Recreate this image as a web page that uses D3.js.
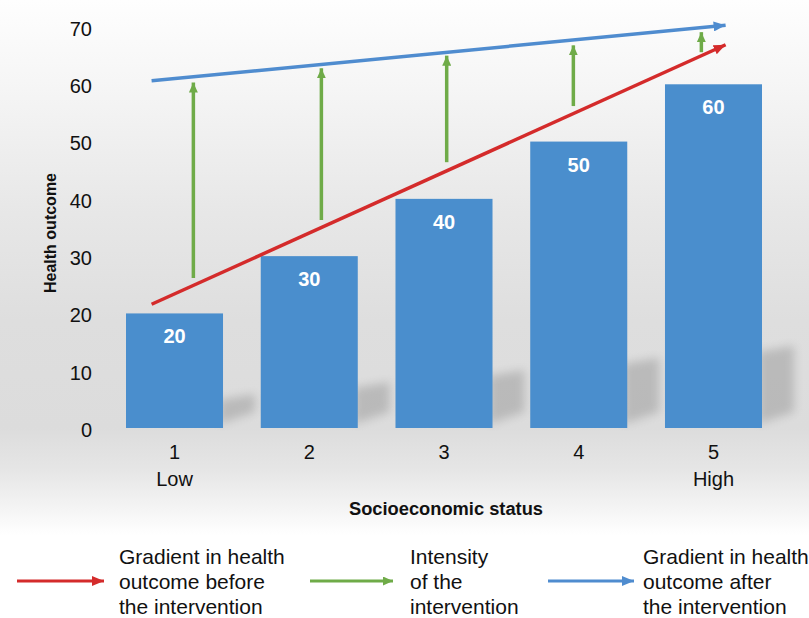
<!DOCTYPE html>
<html>
<head>
<meta charset="utf-8">
<script src="https://cdn.jsdelivr.net/npm/d3@7"></script>
<style>
  body { margin: 0; background: #fff; }
  svg { display: block; font-family: "Liberation Sans", Arial, sans-serif; }
</style>
</head>
<body>
<svg id="chart" width="809" height="618"></svg>
<script>
// Health outcome by socioeconomic status
const categories = ["1", "2", "3", "4", "5"];
const categoryNotes = ["Low", "", "", "", "High"];
const outcomes = [20, 30, 40, 50, 60];
const yTicks = [0, 10, 20, 30, 40, 50, 60, 70];

// Gradient lines as [category position, outcome] for start and arrow tip
const beforeGradient = [[0.83, 21.6], [5.09, 66.9]];
const afterGradient = [[0.83, 60.6], [5.09, 70.3]];

// Intervention arrows: category position, outcome at tail and at tip
const interventionPos = [1.14, 2.09, 3.02, 3.96, 4.91];
const interventionFrom = [26.2, 36.3, 46.4, 56.2, 65.6];
const interventionTo = [60.3, 62.8, 65.0, 66.8, 69.1];

const legendLabels = [
  ["Gradient in health", "outcome before", "the intervention"],
  ["Intensity", "of the", "intervention"],
  ["Gradient in health", "outcome after", "the intervention"]
];

const colors = { bar: "#4a8ecd", red: "#d42b2b", green: "#6fab48", blue: "#4f8ccf" };

const svg = d3.select("#chart");
const defs = svg.append("defs");

// backdrop shading
const bg = defs.append("linearGradient").attr("id", "bg").attr("x1", 0).attr("y1", 0).attr("x2", 0).attr("y2", 1);
[[0, "#fefefe"], [0.15, "#f6f6f6"], [0.4, "#e7e7e7"], [0.6, "#dedede"], [0.8, "#dcdcdc"], [0.88, "#e6e6e6"], [0.95, "#f4f4f4"], [1, "#ffffff"]]
  .forEach(([o, c]) => bg.append("stop").attr("offset", o).attr("stop-color", c));
svg.append("rect").attr("x", 0).attr("y", 0).attr("width", 809).attr("height", 535).attr("fill", "url(#bg)");

defs.append("filter").attr("id", "soft").attr("x", "-50%").attr("y", "-50%").attr("width", "200%").attr("height", "200%")
  .append("feGaussianBlur").attr("stdDeviation", 5);

function marker(id, color, len, wid) {
  defs.append("marker").attr("id", id)
    .attr("markerUnits", "userSpaceOnUse")
    .attr("viewBox", `0 0 ${len} ${wid}`)
    .attr("refX", len).attr("refY", wid / 2)
    .attr("markerWidth", len).attr("markerHeight", wid)
    .attr("orient", "auto")
    .append("path").attr("d", `M0,0L${len},${wid / 2}L0,${wid}Z`).attr("fill", color);
}
marker("headRed", colors.red, 12, 10);
marker("headBlue", colors.blue, 12, 10);
marker("headGreen", colors.green, 10, 9);

const y = d3.scaleLinear().domain([0, 70]).range([428, 27]);
const x = d3.scaleBand().domain(categories).range([126, 762]).paddingInner(0.28).paddingOuter(0);
const bw = x.bandwidth();
const pos = d3.scaleLinear().domain([1, 5]).range([x("1") + bw / 2, x("5") + bw / 2]);

// bar floor shadows
svg.append("g").selectAll("path").data(outcomes).join("path")
  .attr("d", (d, i) => {
    const r = x(categories[i]) + bw - 4, b = y(0) - 4, h = (y(0) - y(d)) * 0.21;
    return `M${r},${b}L${r},${b - h}L${r + 36},${b - h - 6}L${r + 36},${b - 12}Z`;
  })
  .attr("fill", "#909090").attr("opacity", 0.45).attr("filter", "url(#soft)");

// bars
svg.append("g").selectAll("rect").data(outcomes).join("rect")
  .attr("x", (d, i) => x(categories[i]))
  .attr("y", d => y(d))
  .attr("width", bw)
  .attr("height", d => y(0) - y(d))
  .attr("fill", colors.bar);

svg.append("g").selectAll("text").data(outcomes).join("text")
  .attr("x", (d, i) => x(categories[i]) + bw / 2)
  .attr("y", d => y(d) + 30)
  .attr("text-anchor", "middle")
  .attr("font-size", 20).attr("font-weight", "bold").attr("fill", "#fff")
  .text(d => d);

// y axis
const yAxis = svg.append("g").attr("transform", "translate(126,2)")
  .call(d3.axisLeft(y).tickValues(yTicks).tickSize(0).tickPadding(34));
yAxis.select(".domain").remove();
yAxis.selectAll("text").attr("font-size", 20).attr("fill", "#111").attr("font-family", null);

// x axis
const xAxis = svg.append("g").attr("transform", `translate(0,${y(0)})`)
  .call(d3.axisBottom(x).tickSize(0).tickPadding(17));
xAxis.select(".domain").remove();
xAxis.selectAll("text").attr("font-size", 20).attr("fill", "#111").attr("font-family", null);

svg.append("g").selectAll("text").data(categoryNotes).join("text")
  .attr("x", (d, i) => x(categories[i]) + bw / 2)
  .attr("y", 486)
  .attr("text-anchor", "middle")
  .attr("font-size", 20).attr("fill", "#111")
  .text(d => d);

svg.append("text").attr("x", 446).attr("y", 515).attr("text-anchor", "middle")
  .attr("font-size", 18.3).attr("font-weight", "bold").attr("fill", "#111")
  .text("Socioeconomic status");

svg.append("text").attr("transform", "translate(56,233) rotate(-90)").attr("text-anchor", "middle")
  .attr("font-size", 16).attr("font-weight", "bold").attr("fill", "#111")
  .text("Health outcome");

// gradient lines
const line = d3.line().x(d => pos(d[0])).y(d => y(d[1]));
svg.append("path").attr("d", line(afterGradient)).attr("stroke", colors.blue).attr("stroke-width", 3.5)
  .attr("fill", "none").attr("marker-end", "url(#headBlue)");
svg.append("path").attr("d", line(beforeGradient)).attr("stroke", colors.red).attr("stroke-width", 3.5)
  .attr("fill", "none").attr("marker-end", "url(#headRed)");

// intervention arrows
svg.append("g").selectAll("path").data(interventionPos).join("path")
  .attr("d", (p, i) => line([[p, interventionFrom[i]], [p, interventionTo[i]]]))
  .attr("stroke", colors.green).attr("stroke-width", 3.5).attr("fill", "none")
  .attr("marker-end", "url(#headGreen)");

// legend
const legendItems = [
  { color: colors.red, head: "headRed", x0: 17, x1: 104, tx: 119 },
  { color: colors.green, head: "headGreen", x0: 310, x1: 393, tx: 410 },
  { color: colors.blue, head: "headBlue", x0: 548, x1: 634, tx: 643 }
];
const lg = svg.append("g").selectAll("g").data(legendItems).join("g");
lg.append("line")
  .attr("x1", d => d.x0).attr("x2", d => d.x1).attr("y1", 581).attr("y2", 581)
  .attr("stroke", d => d.color).attr("stroke-width", 3)
  .attr("marker-end", d => `url(#${d.head})`);
lg.each(function (d, i) {
  const t = d3.select(this).append("text").attr("font-size", 21).attr("fill", "#111");
  legendLabels[i].forEach((s, k) => t.append("tspan").attr("x", d.tx).attr("y", 564 + k * 25).text(s));
});
</script>
</body>
</html>
